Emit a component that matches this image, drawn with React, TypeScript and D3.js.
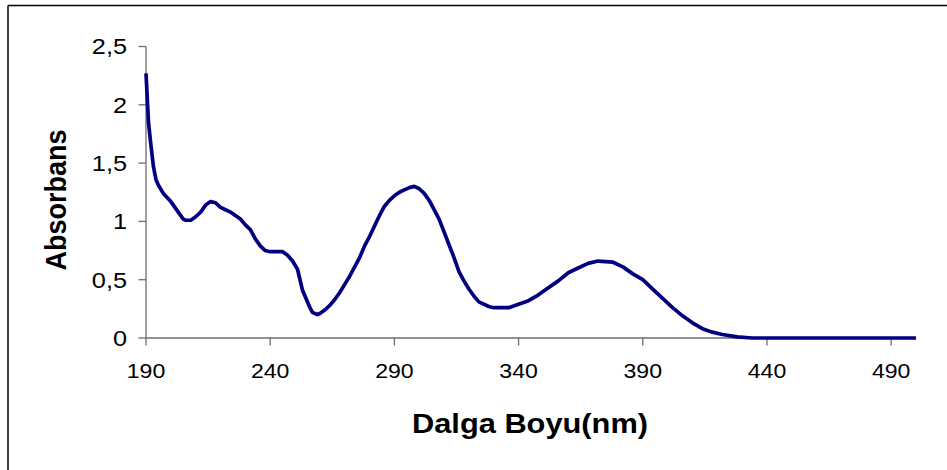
import React from "react";
import * as d3 from "d3";

const wavelengths = [
  190, 191, 192, 193, 194, 195, 197, 200, 203, 205, 206, 208, 210, 212, 214, 216, 218, 220, 222, 224,
  226, 228, 230, 232, 234, 236, 238, 240, 245, 247, 249, 251, 252, 253, 254, 256, 257, 259, 260, 262,
  264, 266, 268, 270, 272, 274, 276, 278, 280, 282, 284, 286, 288, 290, 292, 294, 296, 298, 300, 302,
  304, 306, 308, 310, 312, 314, 316, 318, 320, 322, 324, 326, 328, 330, 336, 340, 344, 348, 352, 356,
  360, 364, 368, 372, 378, 382, 386, 390, 394, 398, 402, 406, 410, 414, 418, 422, 428, 434, 500,
];
const absorbance = [
  2.27, 1.85, 1.65, 1.47, 1.36, 1.31, 1.24, 1.17, 1.08, 1.02, 1.01, 1.01, 1.04, 1.08, 1.14, 1.17, 1.16, 1.12, 1.1, 1.08,
  1.05, 1.02, 0.97, 0.93, 0.85, 0.79, 0.75, 0.74, 0.74, 0.71, 0.66, 0.59, 0.5, 0.41, 0.36, 0.26, 0.22, 0.2, 0.21, 0.24,
  0.28, 0.33, 0.39, 0.46, 0.53, 0.61, 0.69, 0.79, 0.87, 0.96, 1.05, 1.13, 1.18, 1.22, 1.25, 1.27, 1.29, 1.3, 1.28, 1.24,
  1.18, 1.1, 1.02, 0.91, 0.8, 0.69, 0.57, 0.49, 0.42, 0.36, 0.31, 0.29, 0.27, 0.26, 0.26, 0.29, 0.32, 0.37, 0.43, 0.49,
  0.56, 0.6, 0.64, 0.66, 0.65, 0.61, 0.55, 0.5, 0.42, 0.34, 0.26, 0.19, 0.13, 0.08, 0.05, 0.03, 0.01, 0.0, 0.0,
];
const xTicks = [190, 240, 290, 340, 390, 440, 490];
const yTicks = [0, 0.5, 1, 1.5, 2, 2.5];
const xTitle = "Dalga Boyu(nm)";
const yTitle = "Absorbans";

const W = 947;
const H = 470;

export default function App() {
  const x = d3.scaleLinear().domain([190, 500]).range([146, 916]);
  const y = d3.scaleLinear().domain([0, 2.5]).range([338, 46.5]);
  const data = wavelengths.map((w, i) => [w, absorbance[i]] as [number, number]);
  const line = d3
    .line<[number, number]>()
    .x((d) => x(d[0]))
    .y((d) => y(d[1]))
    .curve(d3.curveLinear);
  const fmt = (v: number) => String(v).replace(".", ",");
  const font = "'Liberation Sans', Arial, sans-serif";
  const sx = 1.1;
  const tsx = 1.15;
  const axisColor = "#6e6e6e";

  return (
    <svg
      width={W}
      height={H}
      style={{ position: "absolute", left: 0, top: 0, background: "#fff" }}
      fontFamily={font}
    >
      <rect x={0} y={0} width={W} height={H} fill="#fff" />
      {/* outer frame (top & left visible) */}
      <line x1={8} y1={5.5} x2={W} y2={5.5} stroke="#000" strokeWidth={1.5} />
      <line x1={8} y1={5.5} x2={8} y2={H} stroke="#000" strokeWidth={1.5} />

      {/* y axis */}
      <line x1={146} y1={y(2.5)} x2={146} y2={y(0)} stroke={axisColor} strokeWidth={1.3} />
      {yTicks.map((t) => (
        <g key={"y" + t}>
          <line x1={138.5} x2={146} y1={y(t)} y2={y(t)} stroke={axisColor} strokeWidth={1.3} />
          <text
            transform={`translate(127,${y(t)}) scale(${tsx},1)`}
            textAnchor="end"
            dy="0.36em"
            fontSize={22}
            fill="#000"
          >
            {fmt(t)}
          </text>
        </g>
      ))}

      {/* x axis */}
      <line x1={146} y1={y(0)} x2={916} y2={y(0)} stroke={axisColor} strokeWidth={1.3} />
      {xTicks.map((t) => (
        <g key={"x" + t}>
          <line x1={x(t)} x2={x(t)} y1={y(0)} y2={y(0) + 7.5} stroke={axisColor} strokeWidth={1.3} />
          <text
            transform={`translate(${x(t)},378) scale(${sx},1)`}
            textAnchor="middle"
            fontSize={21}
            fill="#000"
          >
            {t}
          </text>
        </g>
      ))}

      {/* data line */}
      <path d={line(data) || ""} fill="none" stroke="#000080" strokeWidth={3.7} strokeLinejoin="round" />

      {/* titles */}
      <text
        transform={`translate(530,433) scale(${sx},1)`}
        textAnchor="middle"
        fontSize={28}
        fontWeight="bold"
        fill="#000"
      >
        {xTitle}
      </text>
      <text
        transform={`translate(66,200) scale(${sx},1) rotate(-90)`}
        textAnchor="middle"
        fontSize={27}
        fontWeight="bold"
        fill="#000"
      >
        {yTitle}
      </text>
    </svg>
  );
}
